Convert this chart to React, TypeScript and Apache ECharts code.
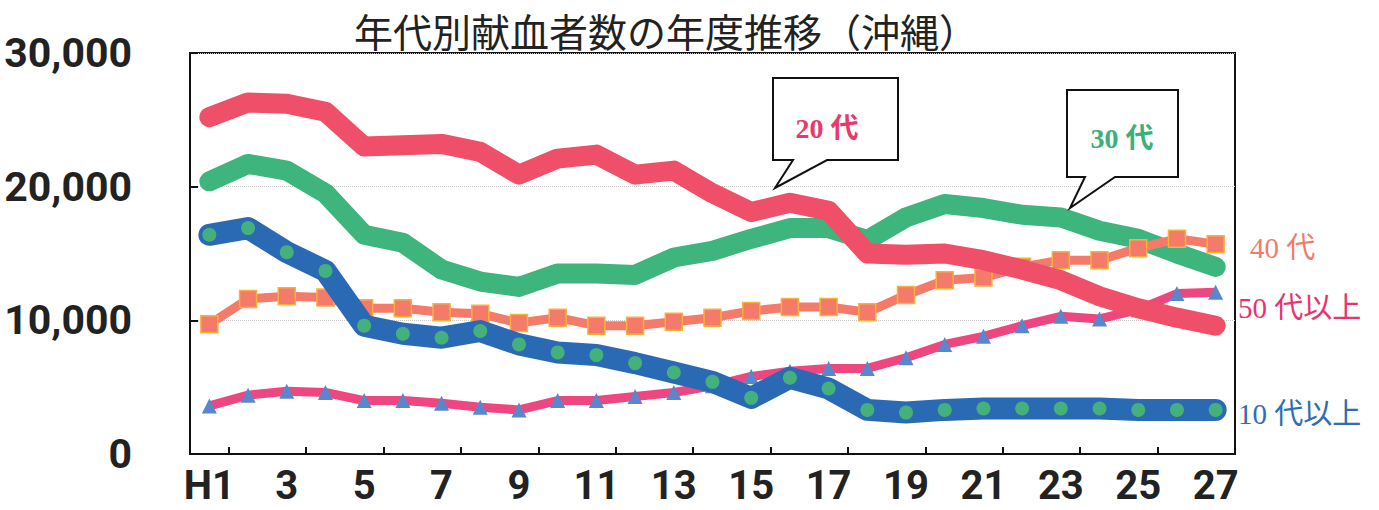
import React, { useEffect, useRef } from "react";
import * as echarts from "echarts";

const categories = ["H1","2","3","4","5","6","7","8","9","10","11","12","13","14","15","16","17","18","19","20","21","22","23","24","25","26","27"];

const twenties = [25200,26300,26200,25600,23000,23100,23200,22600,20900,22100,22400,20900,21200,19500,18100,18800,18200,15000,14900,15000,14500,13800,13000,11800,10900,10200,9600];
const thirties = [20400,21700,21200,19500,16400,15800,13800,12900,12500,13500,13500,13400,14700,15200,16100,16900,16900,16000,17700,18700,18400,17900,17700,16700,16100,15000,14000];
const forties = [9700,11600,11800,11700,10900,10900,10600,10500,9800,10200,9600,9600,9900,10200,10700,11000,11000,10600,11900,13000,13200,14000,14500,14500,15400,16100,15700];
const fiftiesPlus = [3600,4400,4700,4600,4000,4000,3800,3500,3300,4000,4000,4300,4600,5100,5800,6200,6400,6400,7200,8200,8800,9600,10300,10100,10800,12000,12100];
const teens = [16400,16900,15100,13700,9600,9000,8700,9200,8200,7600,7400,6800,6100,5400,4200,5700,4900,3300,3100,3300,3400,3400,3400,3400,3300,3300,3300];

const yTickLabels = ["0", "10,000", "20,000", "30,000"];

const titleText = "年代別献血者数の年度推移（沖縄）";
const seriesNames = ["20代", "30代", "40代", "50代以上", "10代以上"];

const GOTHIC = "Roboto, 'Liberation Sans', 'Noto Sans', sans-serif";
const SERIF = "'Liberation Serif', 'DejaVu Serif', 'Noto Sans CJK JP', serif";

export default function App() {
  const ref = useRef<HTMLDivElement>(null);

  useEffect(() => {
    if (!ref.current) return;
    const chart = echarts.init(ref.current, null, { renderer: "svg" });
    chart.setOption({
      animation: false,
      backgroundColor: "#ffffff",
      grid: {
        left: 190, right: 144, top: 53, bottom: 56,
        containLabel: false,
        outerBoundsMode: "none",
        show: true, borderColor: "#111", borderWidth: 2,
      },
      xAxis: {
        type: "category",
        data: categories,
        boundaryGap: true,
        axisLine: { lineStyle: { color: "#111", width: 2 } },
        axisTick: {
          show: true, inside: true, length: 7,
          interval: (i: number) => i % 2 === 1,
          lineStyle: { color: "#111", width: 2 },
        },
        axisLabel: {
          interval: 1, fontSize: 40, fontWeight: "bold", fontFamily: GOTHIC,
          color: "#222", margin: 11,
        },
      },
      yAxis: {
        type: "value",
        min: 0, max: 30000, interval: 10000,
        axisLine: { show: true, lineStyle: { color: "#111", width: 2 } },
        axisTick: { show: true, inside: true, length: 8, lineStyle: { color: "#111", width: 2 } },
        splitLine: { show: true, lineStyle: { color: "#c8c8c8", type: "dotted", width: 1 } },
        axisLabel: {
          formatter: (v: number) => yTickLabels[Math.round(v / 10000)] ?? "",
          fontSize: 41, fontWeight: "bold", fontFamily: GOTHIC,
          color: "#222", margin: 58,
        },
      },
      series: [
        {
          name: seriesNames[1], type: "line", data: thirties, z: 2,
          symbol: "none",
          lineStyle: { width: 20, color: "#3DB57C", cap: "round", join: "round" },
        },
        {
          name: seriesNames[2], type: "line", data: forties, z: 3,
          symbol: "rect", symbolSize: 17, showAllSymbol: true,
          itemStyle: { color: "#F47A6A", borderColor: "#F9B13A", borderWidth: 1.5 },
          lineStyle: { width: 9, color: "#F47A6A", join: "round" },
        },
        {
          name: seriesNames[3], type: "line", data: fiftiesPlus, z: 4,
          symbol: "triangle", symbolSize: 15, showAllSymbol: true,
          itemStyle: { color: "#5A86CE" },
          lineStyle: { width: 9, color: "#EE4780", join: "round" },
        },
        {
          name: seriesNames[4], type: "line", data: teens, z: 5,
          symbol: "circle", symbolSize: 14, showAllSymbol: true,
          itemStyle: { color: "#44B07C" },
          lineStyle: { width: 22, color: "#2A69B4", cap: "round", join: "round" },
        },
        {
          name: seriesNames[0], type: "line", data: twenties, z: 6,
          symbol: "none",
          lineStyle: { width: 20, color: "#EF4F69", cap: "round", join: "round" },
        },
      ],
      graphic: [
        {
          type: "text", x: 666, y: 30, z: 100,
          style: {
            text: titleText, fontSize: 39, fontFamily: "'Noto Sans CJK JP', sans-serif",
            fill: "#222", align: "center", verticalAlign: "middle",
          },
        },
        {
          type: "polygon", z: 100,
          shape: { points: [[773, 78], [898, 78], [898, 160], [827, 160], [775, 188], [793, 160], [773, 160]] },
          style: { fill: "#fff", stroke: "#111", lineWidth: 2 },
        },
        {
          type: "text", x: 827, y: 128, z: 101,
          style: {
            text: "20 代", fontSize: 28, fontWeight: "bold", fontFamily: SERIF,
            fill: "#E8396A", align: "center", verticalAlign: "middle",
          },
        },
        {
          type: "polygon", z: 100,
          shape: { points: [[1067, 90], [1178, 90], [1178, 177], [1115, 177], [1070, 208], [1085, 177], [1067, 177]] },
          style: { fill: "#fff", stroke: "#111", lineWidth: 2 },
        },
        {
          type: "text", x: 1122, y: 138, z: 101,
          style: {
            text: "30 代", fontSize: 28, fontWeight: "bold", fontFamily: SERIF,
            fill: "#3DAF7A", align: "center", verticalAlign: "middle",
          },
        },
        {
          type: "text", x: 1250, y: 248, z: 101,
          style: {
            text: "40 代", fontSize: 29, fontFamily: SERIF,
            fill: "#F07C6C", align: "left", verticalAlign: "middle",
          },
        },
        {
          type: "text", x: 1238, y: 308, z: 101,
          style: {
            text: "50 代以上", fontSize: 29, fontFamily: SERIF,
            fill: "#E8336E", align: "left", verticalAlign: "middle",
          },
        },
        {
          type: "text", x: 1238, y: 414, z: 101,
          style: {
            text: "10 代以上", fontSize: 29, fontFamily: SERIF,
            fill: "#2E6DB4", align: "left", verticalAlign: "middle",
          },
        },
      ],
    });
    return () => chart.dispose();
  }, []);

  return (
    <div
      ref={ref}
      style={{ position: "fixed", left: 0, top: 0, width: 1379, height: 510, background: "#fff" }}
    />
  );
}
